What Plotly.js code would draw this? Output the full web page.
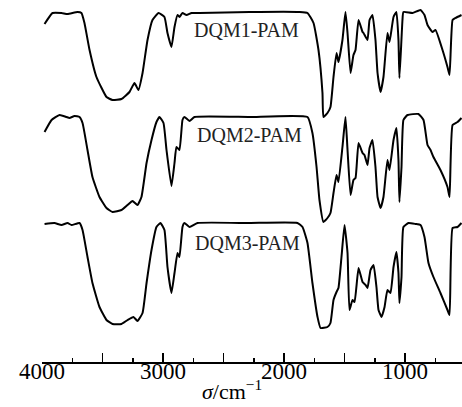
<!DOCTYPE html>
<html><head><meta charset="utf-8">
<script src="https://cdn.plot.ly/plotly-3.0.1.min.js"></script>
<style>html,body{margin:0;padding:0;background:#fff}#c{width:462px;height:407px}</style>
</head><body><div id="c"></div>
<script>
// Wavenumbers (cm^-1) and relative transmittance (a.u., offset per curve)
const wn1 = [3979,3913,3839,3789,3707,3674,3649,3607,3550,3467,3417,3343,3277,3236,3203,3169,3128,3087,3037,2988,2963,2930,2905,2880,2864,2839,2806,2764,2698,2285,1872,1806,1756,1715,1682,1674,1641,1616,1591,1566,1550,1517,1492,1475,1450,1426,1409,1384,1351,1343,1310,1293,1269,1244,1227,1202,1178,1145,1128,1095,1071,1054,1046,1021,1013,938,872,839,814,773,748,690,649,632,607,583,533];
const t1 = [338,349,349,348,350,349,339,312,285,265,262,263,270,279,272,289,322,342,349,345,329,315,335,347,345,349,347,349,349,350,350,349,339,312,269,245,249,255,285,309,300,322,350,329,289,307,312,342,330,329,322,342,347,322,289,270,285,329,320,345,350,322,284,342,350,349,352,347,337,330,332,312,295,287,342,344,347];

const wn2 = [3979,3921,3855,3798,3773,3731,3690,3665,3624,3583,3525,3467,3417,3343,3293,3252,3211,3178,3136,3095,3054,3029,2996,2971,2930,2905,2889,2864,2839,2823,2781,2740,2285,1806,1765,1731,1707,1674,1641,1616,1591,1566,1550,1517,1492,1475,1450,1426,1409,1384,1351,1335,1310,1293,1269,1244,1227,1202,1178,1145,1128,1095,1071,1054,1046,1029,1013,979,889,847,814,789,765,707,649,632,607,566,533];
const t2 = [230,242,247,245,244,246,245,239,212,185,165,154,150,152,157,161,157,165,199,222,240,245,239,212,176,199,215,212,242,245,241,245,245,245,229,195,162,140,144,149,169,187,180,215,245,212,167,182,184,219,209,207,197,214,222,195,165,154,165,202,192,222,234,202,160,195,242,247,248,242,217,212,205,192,175,165,237,240,244];

const wn3 = [3979,3897,3839,3789,3756,3690,3665,3624,3583,3525,3467,3417,3343,3293,3244,3211,3169,3136,3095,3054,3021,2988,2963,2930,2905,2880,2864,2839,2823,2781,2715,2285,1889,1847,1806,1765,1723,1698,1641,1616,1591,1566,1550,1525,1500,1475,1459,1434,1417,1384,1351,1326,1310,1285,1260,1236,1219,1194,1169,1145,1120,1095,1071,1054,1046,1029,1013,971,913,872,839,806,765,707,649,632,607,566,533];
const t3 = [138,139,137,139,137,139,132,105,79,55,42,38,38,42,45,41,49,79,112,135,139,132,95,69,89,109,105,135,139,135,139,139,139,135,119,79,45,34,35,39,62,70,74,105,137,109,52,62,60,94,80,77,74,92,97,75,52,45,55,72,69,95,110,89,59,85,135,139,138,137,125,99,85,69,52,47,134,135,139];

const seriesNames = ["DQM1-PAM","DQM2-PAM","DQM3-PAM"];
const labelX = [2310,2285,2300];
const labelY = [332,227,119];

const serif = "'Liberation Serif','Times New Roman',serif";
const line = {color:"#000", width:2, shape:"spline", smoothing:0.4};
const data = [[wn1,t1],[wn2,t2],[wn3,t3]].map((d,i)=>({
  x:d[0], y:d[1], type:"scatter", mode:"lines", name:seriesNames[i], line:line, hoverinfo:"skip"
}));

const annotations = seriesNames.map((n,i)=>({
  x:labelX[i], y:labelY[i], xref:"x", yref:"y", text:n, showarrow:false,
  font:{family:serif, size:20, color:"#222"}, xanchor:"center", yanchor:"middle"
}));
annotations.push({
  x:0.453, y:-0.078, xref:"paper", yref:"paper", showarrow:false,
  text:"<i>σ</i>/cm<sup>−1</sup>", font:{family:serif, size:22, color:"#000"},
  xanchor:"center", yanchor:"middle"
});

const layout = {
  width:462, height:407,
  margin:{l:42, r:0, t:0, b:45},
  paper_bgcolor:"#fff", plot_bgcolor:"#fff",
  showlegend:false,
  xaxis:{
    range:[4000,529], showgrid:false, zeroline:false,
    showline:true, linecolor:"#000", linewidth:1.5,
    ticks:"inside", ticklen:9, tickwidth:1.5, tickcolor:"#000",
    tickmode:"linear", tick0:0, dtick:500, ticklabelstep:2,
    ticklabelstandoff:-12,
    tickfont:{family:serif, size:23, color:"#000"},
    minor:{dtick:250, tick0:0, ticks:"inside", ticklen:4, tickwidth:1.5, tickcolor:"#000", showgrid:false}
  },
  yaxis:{range:[0,362], visible:false, showgrid:false, zeroline:false},
  annotations:annotations
};
Plotly.newPlot("c", data, layout, {staticPlot:true});
</script></body></html>
